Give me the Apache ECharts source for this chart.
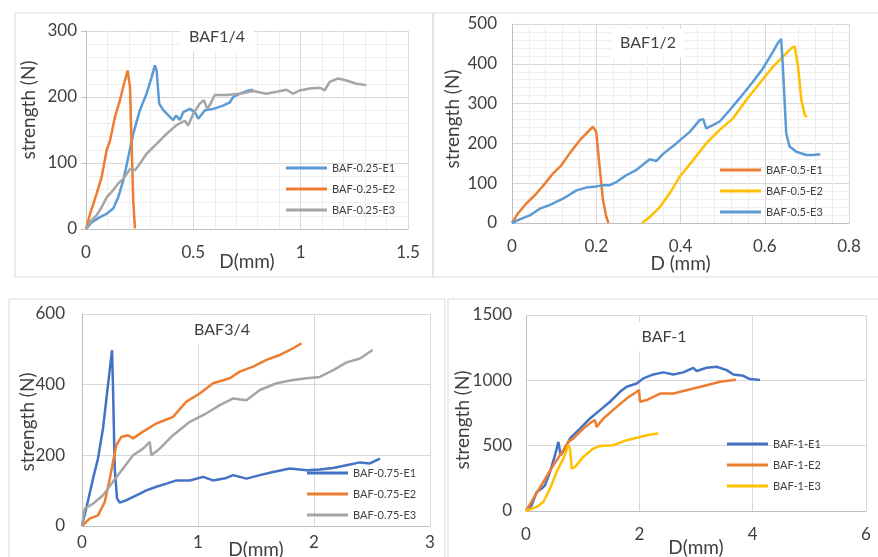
<!DOCTYPE html>
<html>
<head>
<meta charset="utf-8">
<script src="https://cdn.jsdelivr.net/npm/echarts@6/dist/echarts.min.js"></script>
<style>
  html, body { margin: 0; padding: 0; background: #fff; }
  #chart { width: 878px; height: 557px; }
</style>
</head>
<body>
<div id="chart"></div>
<script>
// BAF1/4
var baf025E1 = [[0,0],[0.026,10],[0.065,18],[0.096,23],[0.127,31],[0.15,48],[0.174,74],[0.197,109],[0.22,144],[0.251,180],[0.282,205],[0.306,230],[0.321,248],[0.329,240],[0.341,190],[0.36,180],[0.391,170],[0.406,165],[0.42,172],[0.437,165],[0.453,177],[0.484,182],[0.507,177],[0.523,167],[0.554,180],[0.593,182],[0.639,187],[0.67,192],[0.686,200],[0.717,205],[0.748,209],[0.779,211]];
var baf025E2 = [[0,0],[0.019,23],[0.05,54],[0.073,79],[0.096,119],[0.112,134],[0.135,170],[0.158,195],[0.177,220],[0.194,240],[0.205,215],[0.212,134],[0.22,43],[0.228,1]];
var baf025E3 = [[0,0],[0.019,11],[0.05,21],[0.073,33],[0.096,48],[0.127,59],[0.15,69],[0.174,76],[0.205,91],[0.228,89],[0.251,99],[0.282,114],[0.329,129],[0.375,144],[0.42,157],[0.46,164],[0.476,157],[0.5,175],[0.53,190],[0.549,195],[0.565,182],[0.58,190],[0.6,203],[0.655,203],[0.717,205],[0.779,209],[0.84,205],[0.888,208],[0.934,211],[0.965,205],[0.996,210],[1.042,213],[1.089,214],[1.112,210],[1.135,223],[1.174,228],[1.213,225],[1.26,220],[1.306,218]];
// BAF1/2
var baf05E1 = [[0,0],[0.014,24],[0.034,49],[0.058,74],[0.078,99],[0.097,124],[0.117,145],[0.137,175],[0.161,208],[0.18,229],[0.192,242],[0.2,229],[0.208,141],[0.216,57],[0.224,15],[0.229,0]];
var baf05E2 = [[0.309,0],[0.327,15],[0.351,40],[0.374,74],[0.398,116],[0.43,158],[0.461,200],[0.493,234],[0.525,263],[0.556,309],[0.588,351],[0.62,393],[0.643,418],[0.663,439],[0.671,444],[0.679,393],[0.687,309],[0.695,271],[0.7,266]];
var baf05E3 = [[0,0],[0.018,9],[0.042,19],[0.066,36],[0.089,45],[0.121,61],[0.153,82],[0.176,89],[0.2,92],[0.216,95],[0.232,95],[0.248,103],[0.271,120],[0.295,133],[0.327,160],[0.343,156],[0.358,173],[0.39,200],[0.422,229],[0.446,259],[0.454,261],[0.461,238],[0.477,246],[0.493,255],[0.517,284],[0.54,313],[0.572,355],[0.596,389],[0.62,431],[0.631,452],[0.639,462],[0.643,393],[0.647,309],[0.651,225],[0.659,192],[0.675,179],[0.699,171],[0.715,171],[0.732,173]];
// BAF3/4
var baf075E1 = [[0,0],[0.043,59],[0.095,134],[0.138,191],[0.181,276],[0.224,399],[0.259,498],[0.267,399],[0.282,163],[0.302,78],[0.325,66],[0.383,73],[0.469,87],[0.555,101],[0.641,111],[0.728,120],[0.814,129],[0.929,129],[1.044,139],[1.13,129],[1.245,136],[1.303,144],[1.418,134],[1.533,144],[1.648,153],[1.792,163],[1.936,158],[2.05,160],[2.166,164],[2.281,172],[2.396,180],[2.482,177],[2.568,191]];
var baf075E2 = [[0,0],[0.066,21],[0.138,30],[0.196,68],[0.239,134],[0.296,229],[0.339,252],[0.397,257],[0.44,248],[0.526,267],[0.641,290],[0.785,309],[0.9,352],[1.015,375],[1.13,404],[1.274,418],[1.36,437],[1.475,451],[1.59,470],[1.706,484],[1.82,503],[1.892,517]];
var baf075E3 = [[0,0],[0.023,49],[0.095,63],[0.181,87],[0.267,125],[0.354,163],[0.44,200],[0.526,219],[0.584,238],[0.598,200],[0.67,219],[0.785,257],[0.929,295],[1.073,319],[1.188,342],[1.303,361],[1.418,356],[1.533,385],[1.677,404],[1.82,413],[1.936,418],[2.05,422],[2.166,441],[2.281,463],[2.396,474],[2.505,498]];
// BAF-1
var baf1E1 = [[0,0],[0.1,43],[0.188,146],[0.276,171],[0.335,197],[0.424,299],[0.512,427],[0.571,529],[0.612,427],[0.688,478],[0.776,555],[0.953,631],[1.129,708],[1.306,772],[1.482,836],[1.659,912],[1.776,951],[1.953,976],[2.071,1015],[2.247,1045],[2.424,1061],[2.6,1045],[2.776,1061],[2.953,1096],[3.012,1071],[3.188,1096],[3.365,1104],[3.541,1078],[3.659,1045],[3.835,1035],[3.953,1010],[4.129,1002]];
var baf1E2 = [[0,0],[0.129,95],[0.306,222],[0.482,350],[0.659,465],[0.747,529],[0.835,555],[1.012,631],[1.159,682],[1.218,695],[1.247,644],[1.365,708],[1.6,797],[1.776,861],[1.953,912],[1.994,925],[2.012,836],[2.129,849],[2.365,899],[2.6,899],[2.953,938],[3.188,963],[3.424,989],[3.659,1002],[3.706,1002]];
var baf1E3 = [[0,0],[0.188,31],[0.306,69],[0.424,171],[0.541,299],[0.659,401],[0.747,503],[0.776,478],[0.806,325],[0.865,337],[1.012,414],[1.188,478],[1.306,498],[1.541,503],[1.776,542],[2.012,567],[2.188,585],[2.335,593]];

var panelTitles = ["BAF1/4", "BAF1/2", "BAF3/4", "BAF-1"];
var xNames = ["D(mm)", "D (mm)", "D(mm)", "D(mm)"];

var font = "Lato, 'Open Sans', sans-serif";
var txt = "#404040";

var myChart = echarts.init(document.getElementById("chart"));

function plain(v) { return String(v); }

function xAxisOf(idx, max, interval, minor, margin, gap) {
  return {
    type: "value", gridIndex: idx, min: 0, max: max, interval: interval,
    name: xNames[idx], nameLocation: "middle", nameGap: gap, nameMoveOverlap: false,
    nameTextStyle: { fontFamily: font, fontSize: 19, color: txt },
    axisLine: { show: true, onZero: false, lineStyle: { color: "#bfbfbf" } },
    axisTick: { show: false },
    axisLabel: { fontFamily: font, fontSize: 17, color: txt, margin: margin, formatter: plain },
    splitLine: { show: true, lineStyle: { color: "#d9d9d9" } },
    minorTick: { show: false, splitNumber: 5 },
    minorSplitLine: { show: minor, lineStyle: { color: "#eeeeee" } }
  };
}
function yAxisOf(idx, max, interval, minor, margin, tick) {
  return {
    type: "value", gridIndex: idx, min: 0, max: max, interval: interval,
    axisLine: { show: true, lineStyle: { color: "#bfbfbf" } },
    axisTick: { show: tick, length: 5, lineStyle: { color: "#bfbfbf" } },
    axisLabel: { fontFamily: font, fontSize: 17, color: txt, margin: margin, formatter: plain },
    splitLine: { show: true, lineStyle: { color: "#d9d9d9" } },
    minorTick: { show: false, splitNumber: 5 },
    minorSplitLine: { show: minor, lineStyle: { color: "#eeeeee" } }
  };
}
function line(name, data, color, idx) {
  return {
    name: name, type: "line", xAxisIndex: idx, yAxisIndex: idx,
    data: data, showSymbol: false, symbol: "none",
    lineStyle: { width: 2.5, color: color }, itemStyle: { color: color },
    animation: false
  };
}
function legendOf(names, left, top) {
  return {
    data: names, orient: "vertical", left: left, top: top, padding: 0,
    icon: "rect", itemWidth: 41, itemHeight: 3, itemGap: 7,
    textStyle: { fontFamily: font, fontSize: 11, color: txt, lineHeight: 14 },
    selectedMode: false
  };
}
function label(text, x, y, size, rotate) {
  return {
    type: "text", x: x, y: y, rotation: rotate ? Math.PI / 2 : 0,
    style: { text: text, fontFamily: font, fontSize: size, fill: txt, align: "center", verticalAlign: "middle" }
  };
}
function panelTitle(text, x, y) {
  return {
    type: "text", x: x, y: y, z: 100,
    style: { text: text, fontFamily: font, fontSize: 16, fill: txt, align: "center", verticalAlign: "middle",
      backgroundColor: "#fff", padding: [5, 9, 8, 9] }
  };
}
function frame(x, y, w, h) {
  return { type: "rect", shape: { x: x, y: y, width: w, height: h }, style: { fill: null, stroke: "#d9d9d9", lineWidth: 1 }, z: -1 };
}
function gridOf(left, top, width, height) {
  return { left: left, top: top, width: width, height: height, containLabel: false, outerBoundsMode: "none" };
}

var option = {
  backgroundColor: "#fff",
  animation: false,
  grid: [
    gridOf(86, 31, 322, 198),
    gridOf(512, 24, 337, 199),
    gridOf(82, 314, 348, 212),
    gridOf(526, 315, 340, 196)
  ],
  xAxis: [
    xAxisOf(0, 1.5, 0.5, true, 15, 23),
    xAxisOf(1, 0.8, 0.2, true, 15, 31),
    xAxisOf(2, 3, 1, false, 8, 14),
    xAxisOf(3, 6, 2, false, 15, 27)
  ],
  yAxis: [
    yAxisOf(0, 300, 100, true, 9, true),
    yAxisOf(1, 500, 100, true, 15, false),
    yAxisOf(2, 600, 200, false, 17, false),
    yAxisOf(3, 1500, 500, false, 14, false)
  ],
  legend: [
    legendOf(["BAF-0.25-E1", "BAF-0.25-E2", "BAF-0.25-E3"], 286, 161),
    legendOf(["BAF-0.5-E1", "BAF-0.5-E2", "BAF-0.5-E3"], 720, 163),
    legendOf(["BAF-0.75-E1", "BAF-0.75-E2", "BAF-0.75-E3"], 307, 466),
    legendOf(["BAF-1-E1", "BAF-1-E2", "BAF-1-E3"], 727, 437)
  ],
  graphic: [
    frame(15, 13, 418, 264),
    frame(433, 13, 450, 264),
    frame(9, 299, 436, 270),
    frame(448, 299, 440, 270),
    panelTitle(panelTitles[0], 217, 37),
    panelTitle(panelTitles[1], 648, 43),
    panelTitle(panelTitles[2], 222, 330),
    panelTitle(panelTitles[3], 664, 337),
    label("strength (N)", 29, 110, 19, true),
    label("strength (N)", 453, 119, 19, true),
    label("strength (N)", 28, 422, 19, true),
    label("strength (N)", 463, 420, 19, true)
  ],
  series: [
    line("BAF-0.25-E1", baf025E1, "#5B9BD5", 0),
    line("BAF-0.25-E2", baf025E2, "#ED7D31", 0),
    line("BAF-0.25-E3", baf025E3, "#A5A5A5", 0),
    line("BAF-0.5-E1", baf05E1, "#ED7D31", 1),
    line("BAF-0.5-E2", baf05E2, "#FFC000", 1),
    line("BAF-0.5-E3", baf05E3, "#5B9BD5", 1),
    line("BAF-0.75-E1", baf075E1, "#4472C4", 2),
    line("BAF-0.75-E2", baf075E2, "#ED7D31", 2),
    line("BAF-0.75-E3", baf075E3, "#A5A5A5", 2),
    line("BAF-1-E1", baf1E1, "#4472C4", 3),
    line("BAF-1-E2", baf1E2, "#ED7D31", 3),
    line("BAF-1-E3", baf1E3, "#FFC000", 3)
  ]
};
myChart.setOption(option);
window.addEventListener("resize", function () { myChart.resize(); });
</script>
</body>
</html>
